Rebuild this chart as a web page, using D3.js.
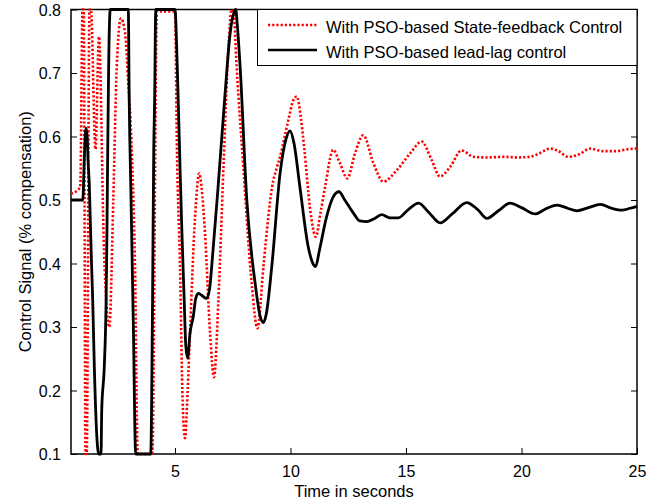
<!DOCTYPE html>
<html>
<head>
<meta charset="utf-8">
<script src="https://cdn.jsdelivr.net/npm/d3@7"></script>
<style>
  html, body { margin: 0; padding: 0; background: #fff; }
  svg { display: block; font-family: Arial, "Liberation Sans", sans-serif; }
</style>
</head>
<body>
<svg id="chart" width="662" height="504"></svg>
<script>
// ---- data (time in s, control signal) ----
const stateFeedback = [
  [0.5,0.51],[0.9,0.52],[1.0,0.8],[1.05,0.8],[1.13,0.1],[1.18,0.1],[1.3,0.8],[1.36,0.8],
  [1.56,0.58],[1.71,0.757],[1.93,0.42],[2.16,0.30],[2.33,0.50],[2.48,0.71],[2.66,0.786],
  [2.84,0.763],[2.98,0.684],[3.1,0.605],[3.27,0.395],[3.39,0.1],[4.02,0.1],[4.22,0.797],
  [5.0,0.797],[5.09,0.57],[5.22,0.395],[5.32,0.2],[5.43,0.125],[5.55,0.2],[5.65,0.29],
  [5.87,0.473],[6.05,0.542],[6.15,0.52],[6.3,0.448],[6.52,0.29],[6.69,0.221],[6.88,0.342],
  [7.1,0.552],[7.31,0.736],[7.45,0.8],[7.55,0.79],[7.67,0.71],[7.96,0.552],[8.32,0.369],
  [8.57,0.298],[8.83,0.395],[9.04,0.473],[9.2,0.52],[9.4,0.55],[9.55,0.568],[9.75,0.6],
  [9.91,0.626],[10.1,0.655],[10.27,0.663],[10.45,0.63],[10.6,0.58],[10.84,0.489],[11.1,0.442],
  [11.3,0.48],[11.5,0.521],[11.85,0.579],[12.14,0.558],[12.46,0.534],[12.79,0.573],[13.15,0.602],
  [13.59,0.558],[14.02,0.529],[14.6,0.547],[15.17,0.573],[15.68,0.592],[16.11,0.563],[16.47,0.537],
  [16.91,0.552],[17.41,0.578],[17.92,0.568],[18.5,0.567],[19.22,0.568],[19.8,0.567],[20.37,0.568],
  [20.8,0.574],[21.24,0.581],[21.6,0.577],[22.03,0.568],[22.5,0.572],[22.97,0.581],[23.5,0.577],
  [24.13,0.577],[24.6,0.58],[25,0.581]
];
const leadLag = [
  [0.5,0.5],[1.01,0.5],[1.08,0.57],[1.15,0.613],[1.2,0.6],[1.24,0.56],[1.29,0.527],[1.37,0.421],
  [1.44,0.342],[1.51,0.237],[1.61,0.133],[1.7,0.1],[1.8,0.1],[1.83,0.169],[1.94,0.237],[2.02,0.342],
  [2.05,0.43],[2.09,0.579],[2.13,0.71],[2.2,0.8],[2.98,0.8],[3.02,0.657],[3.1,0.5],[3.2,0.3],
  [3.3,0.1],[3.95,0.1],[4.03,0.342],[4.08,0.574],[4.12,0.657],[4.17,0.8],[5.0,0.8],[5.1,0.71],
  [5.22,0.55],[5.3,0.45],[5.4,0.342],[5.47,0.27],[5.55,0.251],[5.65,0.29],[5.79,0.316],[5.9,0.345],
  [6.01,0.353],[6.15,0.35],[6.37,0.345],[6.5,0.36],[6.59,0.395],[6.88,0.527],[7.17,0.668],
  [7.39,0.763],[7.55,0.795],[7.63,0.8],[7.7,0.775],[7.82,0.71],[8.11,0.5],[8.47,0.369],[8.7,0.315],
  [8.83,0.307],[8.95,0.32],[9.19,0.395],[9.55,0.542],[9.8,0.595],[9.98,0.609],[10.15,0.59],
  [10.41,0.52],[10.77,0.426],[11.0,0.398],[11.09,0.395],[11.25,0.42],[11.56,0.473],[11.85,0.505],
  [12.1,0.513],[12.35,0.5],[12.73,0.479],[13.0,0.467],[13.3,0.466],[13.6,0.47],[13.95,0.477],
  [14.3,0.472],[14.67,0.472],[15.1,0.485],[15.54,0.495],[16.0,0.48],[16.48,0.464],[17.0,0.478],
  [17.63,0.496],[18.1,0.485],[18.5,0.471],[19.0,0.483],[19.51,0.495],[20.0,0.488],[20.6,0.478],
  [21.0,0.485],[21.54,0.492],[22.0,0.487],[22.4,0.483],[22.9,0.488],[23.41,0.493],[23.9,0.487],
  [24.35,0.484],[24.7,0.487],[25,0.49]
];
const xTicks = [5, 10, 15, 20, 25];
const yTicks = [0.1, 0.2, 0.3, 0.4, 0.5, 0.6, 0.7, 0.8];
const seriesLabels = ["With PSO-based State-feedback Control", "With PSO-based lead-lag control"];
const xLabel = "Time in seconds";
const yLabel = "Control Signal (% compensation)";

// ---- layout ----
const svg = d3.select("#chart");
const L = 71, R = 637, T = 9.5, B = 454;
const x = d3.scaleLinear().domain([0.5, 25]).range([L, R]);
const y = d3.scaleLinear().domain([0.1, 0.8]).range([B, T]);

const fmt = d3.format(".1f");
const tickLen = 6;

// axes (MATLAB style: inward ticks, box)
const gx = svg.append("g").attr("transform", `translate(0,${B})`)
  .call(d3.axisBottom(x).tickValues(xTicks).tickSizeInner(-tickLen).tickSizeOuter(0).tickPadding(tickLen + 6).tickFormat(d3.format("d")));
const gy = svg.append("g").attr("transform", `translate(${L},0)`)
  .call(d3.axisLeft(y).tickValues(yTicks).tickSizeInner(-tickLen).tickSizeOuter(0).tickPadding(tickLen + 4).tickFormat(fmt));
const gxt = svg.append("g").attr("transform", `translate(0,${T})`)
  .call(d3.axisTop(x).tickValues(xTicks).tickSizeInner(-tickLen).tickSizeOuter(0).tickFormat(""));
const gyr = svg.append("g").attr("transform", `translate(${R},0)`)
  .call(d3.axisRight(y).tickValues(yTicks).tickSizeInner(-tickLen).tickSizeOuter(0).tickFormat(""));
[gx, gy, gxt, gyr].forEach(g => {
  g.select(".domain").remove();
  g.selectAll(".tick line").attr("stroke", "#000").attr("stroke-width", 1);
  g.selectAll(".tick text").attr("fill", "#000").attr("font-size", 16)
    .attr("font-family", "Arial, 'Liberation Sans', sans-serif");
});
gy.selectAll(".tick text").attr("dy", "0.35em");

// box
svg.append("rect").attr("x", L).attr("y", T).attr("width", R - L).attr("height", B - T)
  .attr("fill", "none").attr("stroke", "#000").attr("stroke-width", 1.5);

// lines
const line = d3.line().x(d => x(d[0])).y(d => y(d[1])).curve(d3.curveMonotoneX);
svg.append("path").datum(stateFeedback).attr("d", line)
  .attr("fill", "none").attr("stroke", "#ff0000").attr("stroke-width", 2.6)
  .attr("stroke-dasharray", "2.2,2");
svg.append("path").datum(leadLag).attr("d", line)
  .attr("fill", "none").attr("stroke", "#000").attr("stroke-width", 2.8)
  .attr("stroke-linejoin", "round");

// axis labels
svg.append("text").attr("x", (L + R) / 2).attr("y", 497).attr("text-anchor", "middle")
  .attr("font-size", 16.5).attr("fill", "#000").text(xLabel);
svg.append("text").attr("transform", `translate(31,${(T + B) / 2}) rotate(-90)`)
  .attr("text-anchor", "middle").attr("font-size", 16.5).attr("fill", "#000").text(yLabel);

// legend
const lg = svg.append("g");
lg.append("rect").attr("x", 257.5).attr("y", T).attr("width", R - 257.5).attr("height", 56)
  .attr("fill", "#fff").attr("stroke", "#000").attr("stroke-width", 1);
const legendItems = [
  { label: seriesLabels[0], color: "#ff0000", dash: "2.2,2", yy: 25 },
  { label: seriesLabels[1], color: "#000", dash: null, yy: 50 }
];
legendItems.forEach(it => {
  lg.append("line").attr("x1", 268).attr("x2", 317).attr("y1", it.yy).attr("y2", it.yy)
    .attr("stroke", it.color).attr("stroke-width", 2.6).attr("stroke-dasharray", it.dash);
  lg.append("text").attr("x", 326).attr("y", it.yy + 8.3).attr("font-size", 16.5)
    .attr("fill", "#000").text(it.label);
});
</script>
</body>
</html>
